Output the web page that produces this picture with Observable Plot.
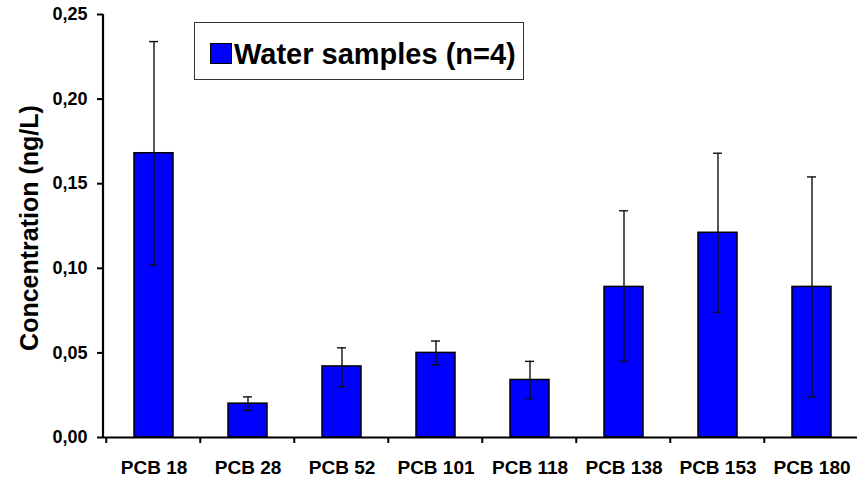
<!DOCTYPE html>
<html>
<head>
<meta charset="utf-8">
<script src="https://cdn.jsdelivr.net/npm/d3@7"></script>
<script src="https://cdn.jsdelivr.net/npm/@observablehq/plot@0.6"></script>
<style>
  html, body { margin: 0; padding: 0; background: #fff; }
  #wrap { position: relative; width: 857px; height: 478px; font-family: "Liberation Sans", Arial, sans-serif; }
  #legend { position: absolute; left: 194px; top: 22px; width: 330px; height: 58px; box-sizing: border-box; border: 1.5px solid #333; background: #fff; }
  #legend .sw { position: absolute; left: 15px; top: 20px; width: 22px; height: 21px; box-sizing: border-box; background: #0000ff; border: 1px solid #000; }
  #legend .tx { position: absolute; left: 39px; top: 17px; font-size: 29px; line-height: 1; font-weight: bold; color: #000; white-space: nowrap; }
</style>
</head>
<body>
<div id="wrap"></div>
<script>
const categories = ["PCB 18", "PCB 28", "PCB 52", "PCB 101", "PCB 118", "PCB 138", "PCB 153", "PCB 180"];
const means = [0.168, 0.020, 0.042, 0.050, 0.034, 0.089, 0.121, 0.089];
const lows  = [0.102, 0.016, 0.030, 0.043, 0.023, 0.045, 0.074, 0.024];
const highs = [0.234, 0.024, 0.053, 0.057, 0.045, 0.134, 0.168, 0.154];
const yTicks = [0, 0.05, 0.10, 0.15, 0.20, 0.25];
const seriesLabel = "Water samples (n=4)";
const yTitle = "Concentration (ng/L)";

const data = categories.map((c, i) => ({name: c, mean: means[i], lo: lows[i], hi: highs[i]}));

const W = 857, H = 478;
const mL = 103, mT = 14, mB = 41;
const pInner = 0.59;
const xRange = [mL, 860.6];

const fmt = d => d.toFixed(2).replace(".", ",");

// custom mark: y-axis line and category boundary ticks on the x axis
function axisLines(index, scales, values, dims) {
  const g = d3.create("svg:g");
  const x = scales.x;
  const step = x(categories[1]) - x(categories[0]);
  const bw = (typeof x.bandwidth === "number") ? x.bandwidth : step * (1 - pInner);
  const y0 = dims.height - dims.marginBottom;
  const bounds = categories.map(c => x(c) - (step - bw) / 2);
  bounds.push(x(categories[categories.length - 1]) + bw + (step - bw) / 2);
  g.selectAll("line.t").data(bounds).join("line")
    .attr("x1", d => d).attr("x2", d => d)
    .attr("y1", y0).attr("y2", y0 + 6)
    .attr("stroke", "#000").attr("stroke-width", 2);
  g.append("line")
    .attr("x1", dims.marginLeft).attr("x2", dims.marginLeft)
    .attr("y1", dims.marginTop).attr("y2", y0 + 1)
    .attr("stroke", "#000").attr("stroke-width", 2.2);
  return g.node();
}

const chart = Plot.plot({
  width: W,
  height: H,
  marginLeft: mL,
  marginRight: 0,
  marginTop: mT,
  marginBottom: mB,
  style: {fontFamily: "'Liberation Sans', Arial, sans-serif", fontWeight: "bold", background: "#fff", color: "#000"},
  x: {type: "band", domain: categories, range: xRange, paddingInner: pInner, paddingOuter: pInner / 2, align: 0.5},
  y: {domain: [0, 0.25]},
  marks: [
    Plot.barY(data, {x: "name", y: "mean", fill: "#0000ff", stroke: "#000", strokeWidth: 1.5}),
    Plot.ruleX(data, {x: "name", y1: "lo", y2: "hi", stroke: "#111", strokeWidth: 1.4}),
    Plot.tickY(data, {x: "name", y: "hi", stroke: "#111", strokeWidth: 1.4, insetLeft: 15, insetRight: 15}),
    Plot.tickY(data, {x: "name", y: "lo", stroke: "#111", strokeWidth: 1.4, insetLeft: 15, insetRight: 15}),
    Plot.ruleY([0], {stroke: "#000", strokeWidth: 2.2}),
    Plot.axisY({ticks: yTicks, tickFormat: fmt, tickSize: 6, tickPadding: 10, strokeWidth: 2, label: null}),
    Plot.axisX({tickSize: 0, tickPadding: 23, label: null}),
    axisLines,
    Plot.text([yTitle], {frameAnchor: "left", textAnchor: "middle", text: d => d, rotate: -90, dx: -74, dy: 2, fontSize: 25, fontWeight: "bold", fill: "#000"})
  ]
});

// enlarge tick labels
d3.select(chart).selectAll("text").each(function () {
  const t = this.textContent.trim();
  if (categories.includes(t)) this.setAttribute("style", "font-size:19px;font-weight:bold");
  else if (yTicks.map(fmt).includes(t)) this.setAttribute("style", "font-size:18px;font-weight:bold");
});

const wrap = document.getElementById("wrap");
wrap.appendChild(chart);
const lg = document.createElement("div");
lg.id = "legend";
lg.innerHTML = '<div class="sw"></div><div class="tx"></div>';
lg.querySelector(".tx").textContent = seriesLabel;
wrap.appendChild(lg);
</script>
</body>
</html>
